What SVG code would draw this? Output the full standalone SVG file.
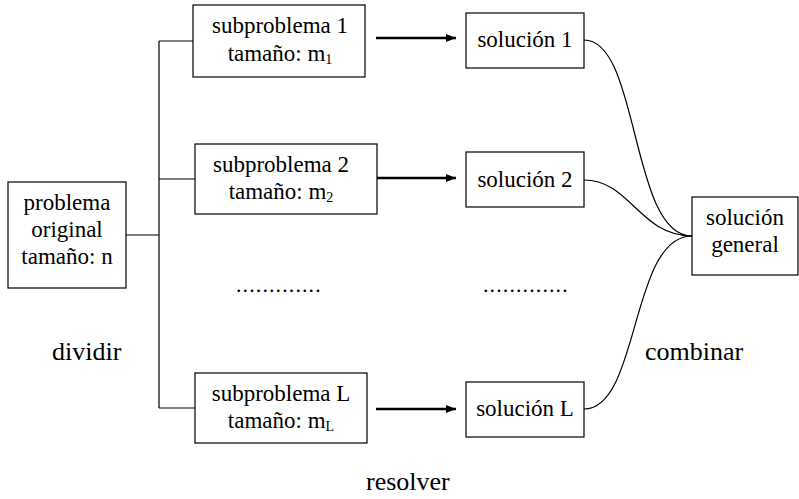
<svg xmlns="http://www.w3.org/2000/svg" width="799" height="499" viewBox="0 0 799 499">
<style>
.box{fill:#fff;stroke:#000;stroke-width:1.2}
.t{font-size:23px;fill:#000;text-anchor:middle}
.lbl{font-size:26px;fill:#000}
.sub{font-size:14px}
.thin{fill:none;stroke:#000;stroke-width:1.2}
.arr{fill:none;stroke:#000;stroke-width:2.5}
.dots{font-size:22px;letter-spacing:1.1px;fill:#000}
</style>
<defs>
<marker id="ah" viewBox="0 0 10 8" refX="10" refY="4" markerWidth="10" markerHeight="8" markerUnits="userSpaceOnUse" orient="auto">
<path d="M0,0 L10,4 L0,8 Z" fill="#000"/>
</marker>
</defs>
<g id="connectors">
<path class="thin" d="M126,235 H159 M159,41 V408 M159,41 H193 M159,179 H195 M159,408 H195"/>
<path class="arr" d="M376,38 H456" marker-end="url(#ah)"/>
<path class="arr" d="M376,178 H456" marker-end="url(#ah)"/>
<path class="arr" d="M376,409 H456" marker-end="url(#ah)"/>
<path class="thin" d="M584,40 C640,40 630,236 692,236"/>
<path class="thin" d="M584,180 C630,180 640,236 692,236"/>
<path class="thin" d="M584,409 C640,409 630,236 692,236"/>
</g>
<g font-family="Liberation Serif, Times New Roman, DejaVu Serif, serif">
<g id="problema">
<rect class="box" x="8" y="182" width="118" height="106"/>
<text class="t" x="67" y="210">problema</text>
<text class="t" x="67" y="237">original</text>
<text class="t" x="67" y="264">tamaño: n</text>
</g>
<g id="sub1">
<rect class="box" x="193" y="5" width="172" height="72"/>
<text class="t" x="280" y="33">subproblema 1</text>
<text class="t" x="280" y="61">tamaño: m<tspan class="sub" dy="3">1</tspan></text>
</g>
<g id="sub2">
<rect class="box" x="195" y="144" width="182" height="70"/>
<text class="t" x="281" y="172">subproblema 2</text>
<text class="t" x="281" y="199">tamaño: m<tspan class="sub" dy="3">2</tspan></text>
</g>
<g id="subL">
<rect class="box" x="195" y="373" width="172" height="70"/>
<text class="t" x="281" y="401">subproblema L</text>
<text class="t" x="281" y="428">tamaño: m<tspan class="sub" dy="3">L</tspan></text>
</g>
<g id="sol1">
<rect class="box" x="466" y="13" width="118" height="55"/>
<text class="t" x="525" y="47">solución 1</text>
</g>
<g id="sol2">
<rect class="box" x="466" y="152" width="118" height="55"/>
<text class="t" x="525" y="187">solución 2</text>
</g>
<g id="solL">
<rect class="box" x="466" y="382" width="118" height="55"/>
<text class="t" x="525" y="416">solución L</text>
</g>
<g id="general">
<rect class="box" x="692" y="197" width="106" height="78"/>
<text class="t" x="745" y="225">solución</text>
<text class="t" x="745" y="252">general</text>
</g>
<g id="labels">
<text class="dots" x="236" y="292">.............</text>
<text class="dots" x="483" y="292">.............</text>
<text class="lbl" x="52" y="360">dividir</text>
<text class="lbl" x="645" y="360">combinar</text>
<text class="lbl" x="366" y="490">resolver</text>
</g>
</g>
</svg>
